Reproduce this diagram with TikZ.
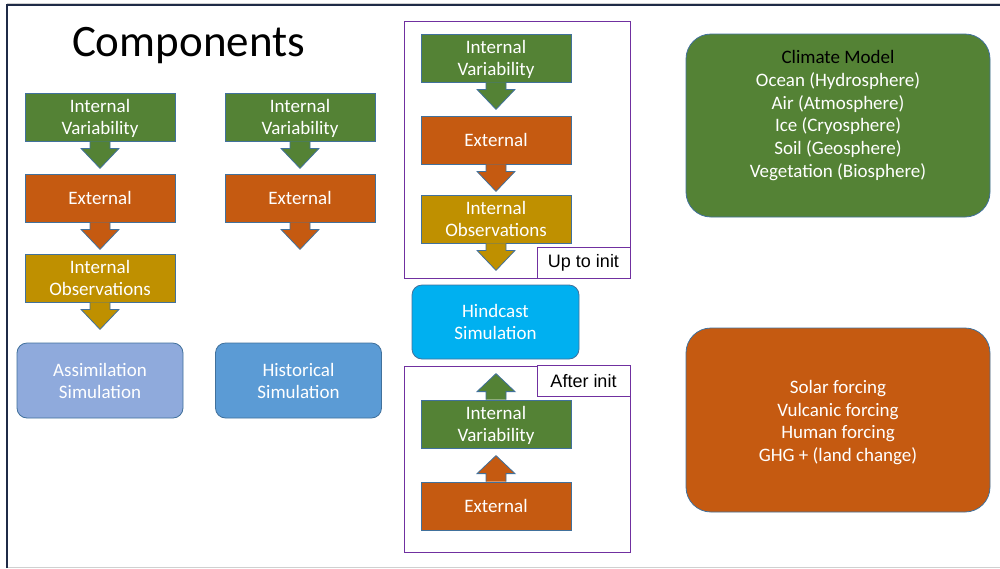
\documentclass[tikz,border=0pt]{standalone}
\usepackage{fontspec}
\setmainfont{Carlito}
\newfontfamily\arialf{Liberation Sans}
\usetikzlibrary{calc}
\definecolor{cgreen}{HTML}{548235}
\definecolor{corange}{HTML}{C55A11}
\definecolor{cgold}{HTML}{BF9000}
\definecolor{cassim}{HTML}{8FAADC}
\definecolor{chist}{HTML}{5B9BD5}
\definecolor{chind}{HTML}{00B0F0}
\definecolor{cedge}{HTML}{41719C}
\definecolor{cpurple}{HTML}{7030A0}
\definecolor{cframe}{HTML}{1F2B47}
\definecolor{clight}{HTML}{D0D0D0}
\newcommand{\dnarr}[2]{\filldraw[arrsty, fill=#2] ($(#1.south)+(-10,0)$) -- ++(0,7) -- ++(-9,0) -- ++(19,20) -- ++(19,-20) -- ++(-9,0) -- ++(0,-7);}
\newcommand{\uparr}[2]{\filldraw[arrsty, fill=#2] ($(#1.north)+(-10,0)$) -- ++(0,-8) -- ++(-9,0) -- ++(19,-18) -- ++(19,18) -- ++(-9,0) -- ++(0,8);}
\tikzset{
  arrsty/.style={draw=cedge, line width=0.8pt, line join=miter},
  blk/.style={draw=cedge, line width=0.8pt, minimum width=150pt, minimum height=48pt, inner sep=0pt, align=center, text=white, text depth=-2pt, font=\fontsize{19}{22}\selectfont},
  sim/.style={blk, rounded corners=10pt, minimum width=166pt, minimum height=75pt},
  big/.style={draw=cedge, line width=0.8pt, rounded corners=25pt, minimum width=304pt, minimum height=183pt, inner sep=0pt},
  bigtxt/.style={align=center, text=white, font=\fontsize{19}{22.8}\selectfont, inner sep=0pt},
  frm/.style={draw=cpurple, line width=0.8pt, inner sep=0pt},
  lbl/.style={draw=cpurple, fill=white, line width=0.8pt, font=\arialf\fontsize{18}{22}\selectfont, minimum width=93pt, minimum height=31pt, inner sep=0pt}
}
\begin{document}
\begin{tikzpicture}[x=1pt,y=-1pt]
\useasboundingbox (0,0) rectangle (1000,568);
\fill[white] (0,0) rectangle (1000,568);
% page frame
\draw[clight, line width=1pt] (7,3.5) -- (1000,3.5);
\draw[clight, line width=1pt] (8,567) -- (1000,567);
\draw[cframe, line width=1.5pt] (7,568) -- (7,5) -- (1000,5);

% title
\node[font=\fontsize{45}{50}\selectfont] (title) at (188.5,46) {Components};

% column 1
\node[blk, fill=cgreen] (a1) at (100,117) {Internal\\Variability};
\node[blk, fill=corange] (a2) at (100,198) {External};
\node[blk, fill=cgold] (a3) at (100,278) {Internal\\Observations};
\node[sim, fill=cassim] (a4) at (100,380.5) {Assimilation\\Simulation};
\dnarr{a1}{cgreen}
\dnarr{a2}{corange}
\dnarr{a3}{cgold}

% column 2
\node[blk, fill=cgreen] (b1) at (300,117) {Internal\\Variability};
\node[blk, fill=corange] (b2) at (300,198) {External};
\node[sim, fill=chist] (b4) at (298.5,380.5) {Historical\\Simulation};
\dnarr{b1}{cgreen}
\dnarr{b2}{corange}

% column 3 - up to init
\node[frm, minimum width=226pt, minimum height=257pt] (upf) at (517,149.5) {};
\node[blk, fill=cgreen] (c1) at (496,58) {Internal\\Variability};
\node[blk, fill=corange] (c2) at (496,140) {External};
\node[blk, fill=cgold] (c3) at (496,219) {Internal\\Observations};
\dnarr{c1}{cgreen}
\dnarr{c2}{corange}
\dnarr{c3}{cgold}
\node[lbl] (uplbl) at (583.5,262.5) {Up to init};

% hindcast
\node[sim, fill=chind, minimum width=167pt, minimum height=74pt] (hind) at (495.5,322) {Hindcast\\Simulation};

% after init
\node[frm, minimum width=226pt, minimum height=186pt] (aff) at (517,459) {};
\node[lbl] (aflbl) at (583.5,381) {After init};
\node[blk, fill=cgreen] (d1) at (496,424) {Internal\\Variability};
\node[blk, fill=corange] (d2) at (496,506) {External};
\uparr{d1}{cgreen}
\uparr{d2}{corange}

% right boxes
\node[big, fill=cgreen] (cm) at (838,125.5) {};
\node[bigtxt] (cmt) at (838,115.5) {\textcolor{black}{Climate Model}\\Ocean (Hydrosphere)\\Air (Atmosphere)\\Ice (Cryosphere)\\Soil (Geosphere)\\Vegetation (Biosphere)};
\node[big, fill=corange, minimum height=184pt] (fo) at (838,420) {};
\node[bigtxt] (fot) at (838,422.5) {Solar forcing\\Vulcanic forcing\\Human forcing\\GHG + (land change)};
\end{tikzpicture}
\end{document}
